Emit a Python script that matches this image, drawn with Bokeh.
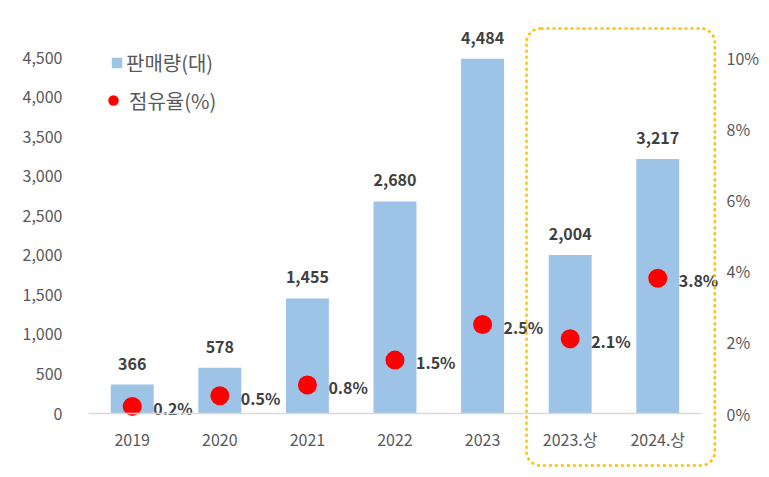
from bokeh.plotting import figure
from bokeh.models import (ColumnDataSource, FactorRange, Range1d, LinearAxis, CategoricalAxis,
                          FixedTicker, NumeralTickFormatter, PrintfTickFormatter, Label,
                          Legend, LegendItem)
from bokeh.core.properties import value
from bokeh.embed import file_html
from bokeh.resources import INLINE

categories = ["2019", "2020", "2021", "2022", "2023", "2023.상", "2024.상"]
sales = [366, 578, 1455, 2680, 4484, 2004, 3217]
share = [0.2, 0.5, 0.8, 1.5, 2.5, 2.1, 3.8]
left_ticks = [0, 500, 1000, 1500, 2000, 2500, 3000, 3500, 4000, 4500]
right_ticks = [0, 2, 4, 6, 8, 10]

FONT = "Noto Sans CJK KR"
TICK_COLOR = "#595959"
LABEL_COLOR = "#404040"

# canvas / frame geometry (px)
W, H = 761, 469
ML, MR, MT, MB = 71, 41, 26, 1
CAT_PX = 615 / 7.0           # width of one category
PAD = 17 / CAT_PX            # extra room each side of the categories
ZERO_Y, TOP_Y = 413, 57      # pixel rows of value 0 and of the top tick
px_per_unit_l = (ZERO_Y - TOP_Y) / 4500.0
px_per_unit_r = (ZERO_Y - TOP_Y) / 10.0
frame_bottom = H - MB
l_top = (ZERO_Y - MT) / px_per_unit_l
l_bot = -(frame_bottom - ZERO_Y) / px_per_unit_l
r_top = (ZERO_Y - MT) / px_per_unit_r
r_bot = -(frame_bottom - ZERO_Y) / px_per_unit_r

src = ColumnDataSource(dict(
    cat=categories,
    sales=sales,
    share=share,
    sales_txt=[f"{v:,}" for v in sales],
    share_txt=[f"{v:.1f}%" for v in share],
))

p = figure(x_range=FactorRange(factors=categories, range_padding=PAD, range_padding_units="absolute"),
           y_range=Range1d(l_bot, l_top),
           width=W, height=H, output_backend="svg", toolbar_location=None,
           x_axis_location=None,
           min_border_left=ML, min_border_right=MR, min_border_top=MT, min_border_bottom=MB)
p.extra_y_ranges = {"pct": Range1d(r_bot, r_top)}
p.outline_line_color = None
p.xgrid.visible = False
p.ygrid.visible = False
p.background_fill_color = "white"
p.border_fill_color = "white"

bars = p.vbar(x="cat", top="sales", width=0.49, source=src, fill_color="#9DC3E6", line_color=None)
dots = p.scatter(x="cat", y="share", size=19, source=src, fill_color="#FF0000", line_color=None,
                 y_range_name="pct")

p.text(x="cat", y="sales", text="sales_txt", source=src, y_offset=-21,
       text_align="center", text_baseline="middle", text_font=value(FONT),
       text_font_size="16px", text_font_style="bold", text_color=LABEL_COLOR)
p.text(x="cat", y="share", text="share_txt", source=src, x_offset=21, y_offset=2,
       text_align="left", text_baseline="middle", text_font=value(FONT),
       text_font_size="16px", text_font_style="bold", text_color=LABEL_COLOR,
       y_range_name="pct")

# x axis fixed at value 0 inside the frame
xa = CategoricalAxis(fixed_location=0, bounds=(0, len(categories)))
xa.axis_line_color = "#D9D9D9"
xa.axis_line_width = 1.5
xa.major_tick_line_color = None
xa.minor_tick_line_color = None
xa.major_label_standoff = 7
xa.major_label_text_font = FONT
xa.major_label_text_font_size = "16px"
xa.major_label_text_color = TICK_COLOR
p.add_layout(xa, "below")

ya = p.yaxis[0]
ya.ticker = FixedTicker(ticks=left_ticks)
ya.formatter = NumeralTickFormatter(format="0,0")
ya.axis_line_color = None
ya.major_tick_line_color = None
ya.minor_tick_line_color = None
ya.major_label_standoff = 3
ya.major_label_text_font = FONT
ya.major_label_text_font_size = "16px"
ya.major_label_text_color = TICK_COLOR

ra = LinearAxis(y_range_name="pct", ticker=FixedTicker(ticks=right_ticks),
                formatter=PrintfTickFormatter(format="%d%%"))
ra.axis_line_color = None
ra.major_tick_line_color = None
ra.minor_tick_line_color = None
ra.major_label_standoff = 2
ra.major_label_text_font = FONT
ra.major_label_text_font_size = "16px"
ra.major_label_text_color = TICK_COLOR
p.add_layout(ra, "right")

# highlight box (dotted rounded frame around the half-year bars)
box = Label(x=455, y=440, x_units="screen", y_units="screen", text=" ",
            text_font_size="1px", anchor="top_left",
            padding=dict(left=94, right=94, top=218, bottom=218),
            border_line_color="#FFC000", border_line_width=2.5, border_line_dash="3 3",
            border_radius=14, background_fill_color=None)
p.add_layout(box)

# legends
def mk_legend(item, loc, gw, gh):
    lg = Legend(items=[item], location=loc, glyph_width=gw, glyph_height=gh,
                padding=0, margin=0, spacing=0, label_standoff=3, label_height=12,
                border_line_color=None, background_fill_alpha=0,
                label_text_font=FONT, label_text_font_size="20px", label_text_color=TICK_COLOR)
    return lg

lg1 = mk_legend(LegendItem(label="판매량(대)", renderers=[bars]), (39, 391), 13, 13)
lg2 = mk_legend(LegendItem(label="점유율(%)", renderers=[dots]), (29, 353), 26, 30)
p.add_layout(lg1, "center")
p.add_layout(lg2, "center")

open("out.html", "w").write(file_html(p, INLINE))
